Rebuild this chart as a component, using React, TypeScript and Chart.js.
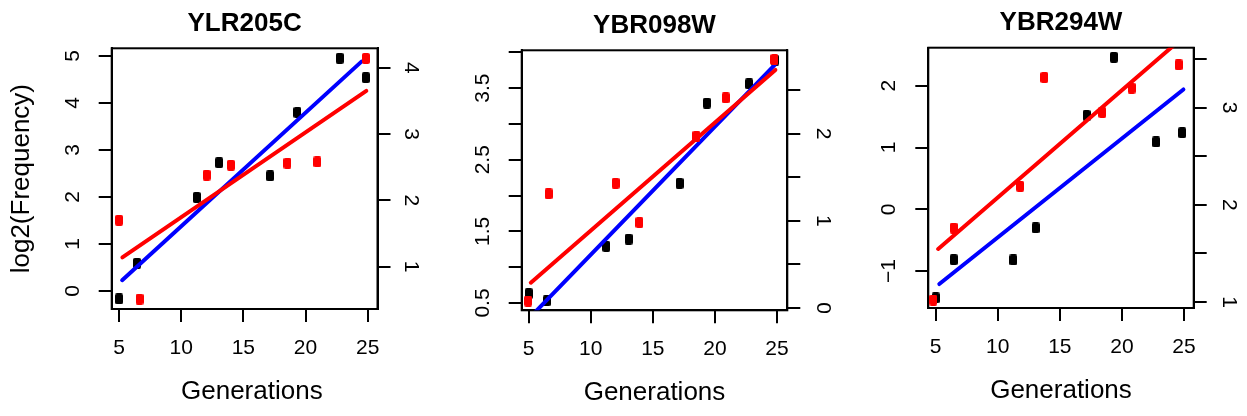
import React, { useEffect, useRef } from "react";
import { Chart, registerables } from "chart.js";

Chart.register(...registerables);

const FONT = '"Liberation Sans", Arial, Helvetica, sans-serif';

// ---------- text ----------
const panelTitles = ["YLR205C", "YBR098W", "YBR294W"];
const xAxisTitle = "Generations";
const yAxisTitle = "log2(Frequency)";

// ---------- shared x (generations of the black series) ----------
const blackGenerations = [5.0, 6.45, 11.25, 13.05, 17.15, 19.35, 22.75, 24.85];
const xTicks = [5, 10, 15, 20, 25];

// ---------- YLR205C ----------
const ylrBlack = [-0.17, 0.59, 1.99, 2.73, 2.45, 3.8, 4.95, 4.54];
const ylrRedGenerations = [5.0, 6.65, 12.05, 14.0, 18.55, 20.95, 24.85];
const ylrRed = [1.7, 0.51, 2.38, 2.53, 2.56, 2.58, 4.14];
const ylrBlueFitX = [5.25, 24.5];
const ylrBlueFitY = [0.23, 4.88];
const ylrRedFitX = [5.27, 24.89];
const ylrRedFitY = [1.14, 3.65];
const ylrLeftTicks = [0, 1, 2, 3, 4, 5];
const ylrLeftLabels = [0, 1, 2, 3, 4, 5];
const ylrRightTicks = [1, 2, 3, 4];
const ylrRightLabels = [1, 2, 3, 4];

// ---------- YBR098W ----------
const ybr098Black = [0.63, 0.53, 1.29, 1.39, 2.17, 3.29, 3.56, 3.89];
const ybr098RedGenerations = [4.95, 6.6, 12.0, 13.92, 18.51, 20.87, 24.79];
const ybr098Red = [0.08, 1.31, 1.43, 0.98, 1.97, 2.41, 2.85];
const ybr098BlueFitX = [5.0, 24.8];
const ybr098BlueFitY = [0.28, 3.82];
const ybr098RedFitX = [5.17, 24.87];
const ybr098RedFitY = [0.29, 2.73];
const ybr098LeftTicks = [0.5, 1, 1.5, 2, 2.5, 3, 3.5, 4];
const ybr098LeftLabels = [0.5, 1.5, 2.5, 3.5];
const ybr098RightTicks = [0, 0.5, 1, 1.5, 2, 2.5];
const ybr098RightLabels = [0, 1, 2];

// ---------- YBR294W ----------
const ybr294Black = [-1.435, -0.815, -0.82, -0.3, 1.52, 2.46, 1.09, 1.24];
const ybr294RedGenerations = [4.8, 6.45, 11.8, 13.75, 18.42, 20.78, 24.57];
const ybr294Red = [1.02, 1.76, 2.19, 3.31, 2.95, 3.2, 3.44];
const ybr294BlueFitX = [5.29, 24.95];
const ybr294BlueFitY = [-1.21, 1.94];
const ybr294RedFitX = [5.2, 24.9];
const ybr294RedFitY = [1.545, 3.72];
const ybr294LeftTicks = [-1, 0, 1, 2];
const ybr294LeftLabels = [-1, 0, 1, 2];
const ybr294RightTicks = [1, 1.5, 2, 2.5, 3, 3.5];
const ybr294RightLabels = [1, 2, 3];

type Layout = {
  left: number; w: number; leftW: number; rightW: number;
  titleTop: number; titleBottom: number; xHeight: number; xPad: number;
  xTitlePad: number; leftPad: number; rightPad: number;
  xMin: number; xMax: number; yMin: number; yMax: number; y2Min: number; y2Max: number;
};

type Spec = {
  title: string;
  black: number[];
  redGen: number[];
  red: number[];
  blueFitX: number[]; blueFitY: number[];
  redFitX: number[]; redFitY: number[];
  leftTicks: number[]; leftLabels: number[];
  rightTicks: number[]; rightLabels: number[];
  yTitle: boolean;
  xTitleText: string;
  layout: Layout;
};

const specs: Spec[] = [
  {
    title: panelTitles[0], black: ylrBlack, redGen: ylrRedGenerations, red: ylrRed,
    blueFitX: ylrBlueFitX, blueFitY: ylrBlueFitY, redFitX: ylrRedFitX, redFitY: ylrRedFitY,
    leftTicks: ylrLeftTicks, leftLabels: ylrLeftLabels, rightTicks: ylrRightTicks, rightLabels: ylrRightLabels,
    yTitle: true, xTitleText: "  " + xAxisTitle,
    layout: {
      left: 0, w: 440, leftW: 111.7, rightW: 62.5, titleTop: 7.9, titleBottom: 9.2,
      xHeight: 107, xPad: 13.7, xTitlePad: 8.9, leftPad: 19.6, rightPad: 14.2,
      xMin: 4.41, xMax: 25.79, yMin: -0.383, yMax: 5.164, y2Min: 0.362, y2Max: 4.293,
    },
  },
  {
    title: panelTitles[1], black: ybr098Black, redGen: ybr098RedGenerations, red: ybr098Red,
    blueFitX: ybr098BlueFitX, blueFitY: ybr098BlueFitY, redFitX: ybr098RedFitX, redFitY: ybr098RedFitY,
    leftTicks: ybr098LeftTicks, leftLabels: ybr098LeftLabels, rightTicks: ybr098RightTicks, rightLabels: ybr098RightLabels,
    yTitle: false, xTitleText: xAxisTitle,
    layout: {
      left: 440, w: 420, leftW: 81.7, rightW: 72.7, titleTop: 9.9, titleBottom: 9.2,
      xHeight: 105.7, xPad: 12.9, xTitlePad: 7.9, leftPad: 10.8, rightPad: 16.2,
      xMin: 4.436, xMax: 25.83, yMin: 0.398, yMax: 4.028, y2Min: -0.026, y2Max: 2.955,
    },
  },
  {
    title: panelTitles[2], black: ybr294Black, redGen: ybr294RedGenerations, red: ybr294Red,
    blueFitX: ybr294BlueFitX, blueFitY: ybr294BlueFitY, redFitX: ybr294RedFitX, redFitY: ybr294RedFitY,
    leftTicks: ybr294LeftTicks, leftLabels: ybr294LeftLabels, rightTicks: ybr294RightTicks, rightLabels: ybr294RightLabels,
    yTitle: false, xTitleText: xAxisTitle,
    layout: {
      left: 860, w: 387, leftW: 68.3, rightW: 53.3, titleTop: 7.2, titleBottom: 9.3,
      xHeight: 108, xPad: 13.6, xTitlePad: 9.7, leftPad: 14.1, rightPad: 16.2,
      xMin: 4.404, xMax: 25.78, yMin: -1.598, yMax: 2.616, y2Min: 0.938, y2Max: 3.616,
    },
  },
];

const fmt = (v: number) => (v < 0 ? "\u2212" + Math.abs(v) : String(v));

function makeSquare(color: string): HTMLCanvasElement {
  const c = document.createElement("canvas");
  c.width = 8;
  c.height = 11;
  const ctx = c.getContext("2d")!;
  ctx.fillStyle = color;
  ctx.beginPath();
  const anyCtx = ctx as any;
  if (anyCtx.roundRect) anyCtx.roundRect(0, 0, 8, 11, 2);
  else ctx.rect(0, 0, 8, 11);
  ctx.fill();
  return c;
}

const boxPlugin = {
  id: "rbox",
  beforeDatasetsDraw(chart: any) {
    const { ctx, chartArea: a } = chart;
    ctx.save();
    ctx.strokeStyle = "#000";
    ctx.lineWidth = 2;
    ctx.strokeRect(a.left, a.top, a.right - a.left, a.bottom - a.top);
    ctx.restore();
  },
};

const grid = () => ({
  display: true,
  drawOnChartArea: false,
  drawTicks: true,
  tickLength: 13,
  color: "#000",
  lineWidth: 2,
});
const border = () => ({ display: true, color: "#000", width: 2 });
const tickFont = { family: FONT, size: 21 };
const labelFont = { family: FONT, size: 26 };

function buildConfig(s: Spec): any {
  const L = s.layout;
  const blackSq = makeSquare("#000000");
  const redSq = makeSquare("#FF0000");
  const toXY = (xs: number[], ys: number[]) => xs.map((x, i) => ({ x, y: ys[i] }));
  return {
    type: "scatter",
    data: {
      datasets: [
        {
          label: "red fit", data: toXY(s.redFitX, s.redFitY), yAxisID: "y2",
          showLine: true, borderColor: "#FF0000", borderWidth: 4, pointRadius: 0,
          borderCapStyle: "round", clip: 0, order: 0, tension: 0,
        },
        {
          label: "red", data: toXY(s.redGen, s.red), yAxisID: "y2",
          pointStyle: redSq, pointRadius: 5, backgroundColor: "#FF0000", borderColor: "#FF0000", order: 1,
        },
        {
          label: "blue fit", data: toXY(s.blueFitX, s.blueFitY), yAxisID: "y",
          showLine: true, borderColor: "#0000FF", borderWidth: 4, pointRadius: 0,
          borderCapStyle: "round", clip: 0, order: 2, tension: 0,
        },
        {
          label: "black", data: toXY(blackGenerations, s.black), yAxisID: "y",
          pointStyle: blackSq, pointRadius: 5, backgroundColor: "#000000", borderColor: "#000000", order: 3,
        },
      ],
    },
    options: {
      animation: false,
      responsive: false,
      maintainAspectRatio: false,
      events: [],
      layout: { padding: 0 },
      plugins: {
        legend: { display: false },
        tooltip: { enabled: false },
        title: {
          display: true,
          text: s.title,
          color: "#000",
          fullSize: false,
          font: { family: FONT, size: 26, weight: "bold" },
          padding: { top: L.titleTop, bottom: L.titleBottom },
        },
      },
      scales: {
        x: {
          type: "linear",
          position: "bottom",
          min: L.xMin,
          max: L.xMax,
          afterBuildTicks: (sc: any) => {
            sc.ticks = xTicks.map((v) => ({ value: v }));
          },
          afterFit: (sc: any) => {
            sc.height = L.xHeight;
          },
          ticks: {
            font: tickFont, color: "#000", padding: L.xPad, autoSkip: false,
            minRotation: 0, maxRotation: 0,
            callback: (v: number) => fmt(v),
          },
          grid: grid(),
          border: border(),
          title: {
            display: true, text: s.xTitleText, color: "#000", font: labelFont,
            padding: { top: 0, bottom: L.xTitlePad },
          },
        },
        y: {
          type: "linear",
          position: "left",
          min: L.yMin,
          max: L.yMax,
          afterBuildTicks: (sc: any) => {
            sc.ticks = s.leftTicks.map((v) => ({ value: v }));
          },
          afterFit: (sc: any) => {
            sc.width = L.leftW;
          },
          ticks: {
            font: tickFont, color: "#000", padding: L.leftPad, autoSkip: false,
            minRotation: 90, maxRotation: 90, crossAlign: "center",
            callback: (v: number) => (s.leftLabels.includes(v) ? fmt(v) : ""),
          },
          grid: grid(),
          border: border(),
          title: {
            display: s.yTitle, text: yAxisTitle, color: "#000", font: labelFont,
            padding: { top: 5.9, bottom: 0 },
          },
        },
        y2: {
          type: "linear",
          position: "right",
          min: L.y2Min,
          max: L.y2Max,
          afterBuildTicks: (sc: any) => {
            sc.ticks = s.rightTicks.map((v) => ({ value: v }));
          },
          afterFit: (sc: any) => {
            sc.width = L.rightW;
          },
          ticks: {
            font: tickFont, color: "#000", padding: L.rightPad, autoSkip: false,
            minRotation: -90, maxRotation: -90, crossAlign: "center",
            callback: (v: number) => (s.rightLabels.includes(v) ? fmt(v) : ""),
          },
          grid: grid(),
          border: border(),
        },
      },
    },
    plugins: [boxPlugin],
  };
}

function Panel({ spec }: { spec: Spec }) {
  const ref = useRef<HTMLCanvasElement>(null);
  useEffect(() => {
    const chart = new Chart(ref.current!, buildConfig(spec));
    return () => chart.destroy();
  }, [spec]);
  const L = spec.layout;
  return (
    <canvas
      ref={ref}
      width={L.w}
      height={416}
      style={{ position: "absolute", left: L.left, top: 0, width: L.w, height: 416 }}
    />
  );
}

export default function App() {
  return (
    <div style={{ position: "absolute", left: 0, top: 0, width: 1247, height: 416, background: "#fff" }}>
      {specs.map((s) => (
        <Panel key={s.title} spec={s} />
      ))}
    </div>
  );
}
